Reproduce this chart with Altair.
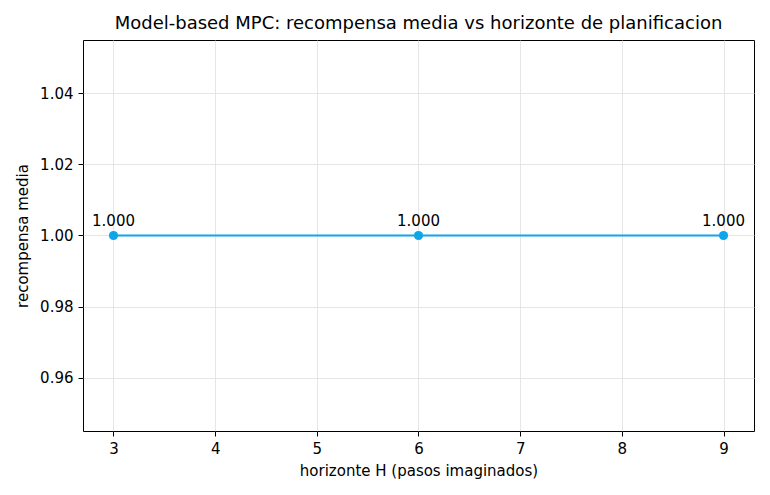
import altair as alt
import pandas as pd

horizons = [3, 6, 9]
rewards = [1.000, 1.000, 1.000]
labels = ["1.000", "1.000", "1.000"]

df = pd.DataFrame({"H": horizons, "reward": rewards, "label": labels})

FONT = "DejaVu Sans"
COLOR = "#0ea5e9"

x = alt.X("H:Q", scale=alt.Scale(domain=[2.7, 9.3], nice=False, zero=False),
          axis=alt.Axis(values=[3, 4, 5, 6, 7, 8, 9], format="d",
                        title="horizonte H (pasos imaginados)"))
y = alt.Y("reward:Q", scale=alt.Scale(domain=[0.945, 1.055], nice=False, zero=False),
          axis=alt.Axis(values=[0.96, 0.98, 1.00, 1.02, 1.04], format=".2f",
                        title="recompensa media"))

base = alt.Chart(df).encode(x=x, y=y)

line = base.mark_line(color=COLOR, strokeWidth=2)
points = base.mark_circle(color=COLOR, size=85, opacity=1)
text = base.mark_text(dy=-15, fontSize=15, font=FONT, color="black",
                      baseline="middle", align="center").encode(text="label:N")

chart = (line + points + text).properties(
    width=671, height=391,
    title=alt.TitleParams("Model-based MPC: recompensa media vs horizonte de planificacion",
                          fontSize=18, font=FONT, fontWeight="normal", color="black",
                          anchor="middle", offset=7),
    autosize=alt.AutoSizeParams(type="none"),
    padding={"left": 75, "top": 32, "right": 8, "bottom": 56},
).configure_view(
    stroke="black", strokeWidth=1
).configure_axis(
    labelFont=FONT, titleFont=FONT, labelFontSize=15, titleFontSize=15,
    titleFontWeight="normal", labelColor="black", titleColor="black",
    domain=False, tickColor="black", tickSize=5, tickWidth=1, labelPadding=5,
    gridColor="#e0e0e0", gridWidth=0.8,
).configure_axisX(titlePadding=7).configure_axisY(titlePadding=9)

chart.save("out.html", embed_options={"renderer": "svg", "actions": False})
